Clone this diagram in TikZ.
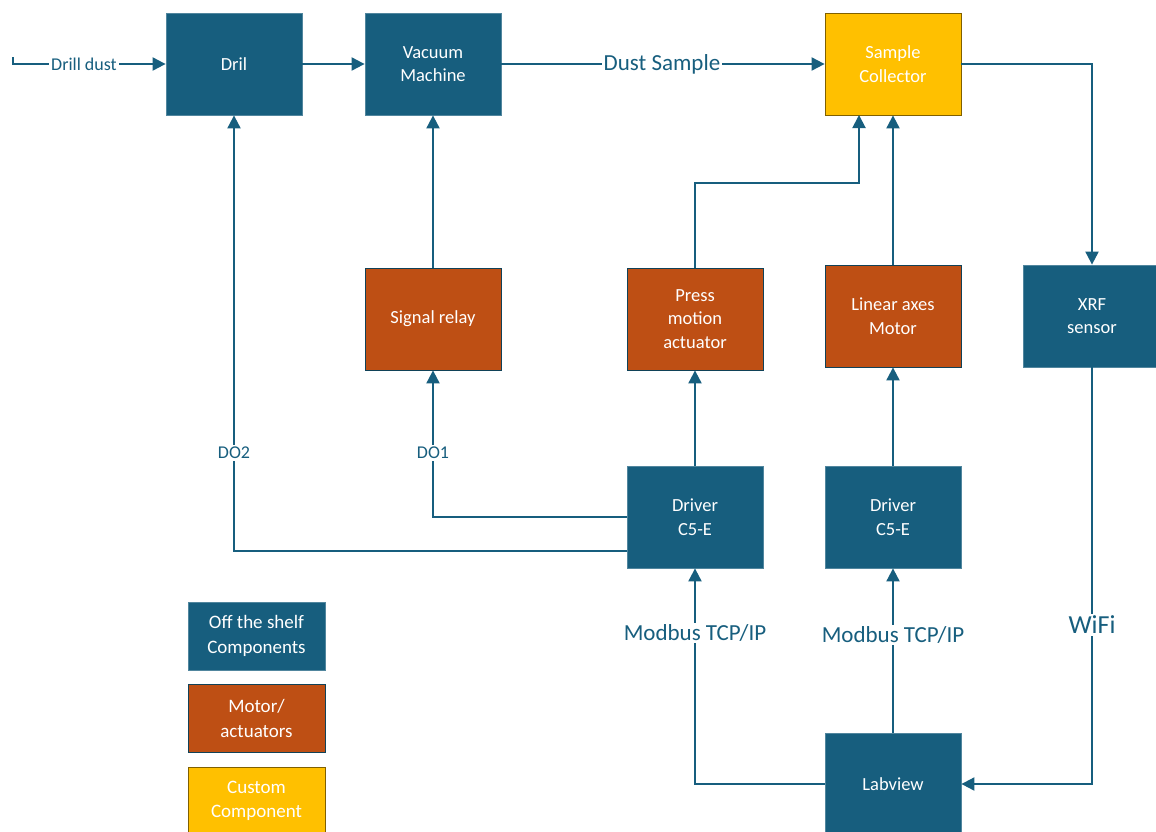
\documentclass[tikz,border=0pt]{standalone}
\usepackage{fontspec}
\setmainfont{Carlito}
\usetikzlibrary{arrows.meta}
\definecolor{dblue}{RGB}{23,94,126}
\definecolor{orng}{RGB}{190,79,20}
\definecolor{ylw}{RGB}{255,192,0}
\tikzset{
  blk/.style={rectangle, fill=dblue, draw=dblue!75!white, line width=0.8pt,
    minimum width=136pt, minimum height=102pt, inner sep=0pt, text=white,
    align=center, font=\fontsize{18.5}{23.5}\selectfont},
  orb/.style={blk, fill=orng, draw=dblue!70!black},
  ylb/.style={blk, fill=ylw, draw=ylw!50!black},
  leg/.style={minimum height=68pt, minimum width=137pt, font=\fontsize{19}{24.5}\selectfont},
  conn/.style={draw=dblue, line width=2pt},
  arr/.style={conn, -{Triangle[length=13pt,width=13pt]}},
  lbl/.style={fill=white, text=dblue, inner sep=2pt, font=\fontsize{18}{22}\selectfont},
  biglbl/.style={lbl, font=\fontsize{23}{27}\selectfont},
}
\begin{document}
\begin{tikzpicture}[x=1pt,y=-1pt]
\useasboundingbox (0,0) rectangle (1156,831);
% boxes
\node[blk] (dril) at (234,64) {Dril};
\node[blk] (vac) at (433,64) {Vacuum\\Machine};
\node[ylb] (sc) at (893,64) {Sample\\Collector};
\node[orb] (relay) at (433,319) {Signal relay};
\node[orb] (press) at (695,319) {Press\\motion\\actuator};
\node[orb] (lin) at (893,316) {Linear axes\\Motor};
\node[blk, minimum width=138pt] (xrf) at (1092,316) {XRF\\sensor};
\node[blk] (drvL) at (695,517) {Driver\\C5-E};
\node[blk] (drvR) at (893,517) {Driver\\C5-E};
\node[blk] (lab) at (893,784) {Labview};
% legend
\node[blk, leg] (legA) at (256.5,636) {Off the shelf\\Components};
\node[orb, leg] (legB) at (256.5,718.5) {Motor/\\actuators};
\node[ylb, leg] (legC) at (256.5,801) {Custom\\Component};
% coordinates
\coordinate (dd) at (13,57);
\coordinate (scin) at (859,115);
\coordinate (pbend) at (695,183);
\coordinate (d1) at (627,517);
\coordinate (d2) at (627,551);
% connectors
\draw[arr] (dd) |- (dril.west);
\node[lbl] (ddl) at (84,64) {Drill dust};
\draw[arr] (dril.east) -- (vac.west);
\draw[arr] (vac.east) -- (sc.west);
\node[biglbl] (dsl) at (662,64) {Dust Sample};
\draw[arr] (sc.east) -| (xrf.north);
\draw[arr] (xrf.south) |- (lab.east);
\node[biglbl, font=\fontsize{26}{30}\selectfont] (wifi) at (1092,625) {WiFi};
\draw[arr] (lab.west) -| (drvL.south);
\node[biglbl] (mb1) at (695,633) {Modbus TCP/IP};
\draw[arr] (lab.north) -- (drvR.south);
\node[biglbl] (mb2) at (893,635) {Modbus TCP/IP};
\draw[arr] (drvL.north) -- (press.south);
\draw[arr] (drvR.north) -- (lin.south);
\draw[arr] (press.north) -- (pbend) -| (scin);
\draw[arr] (lin.north) -- (lin.north |- sc.south);
\draw[arr] (relay.north) -- (vac.south);
\draw[arr] (d1) -| (relay.south);
\node[lbl] (do1) at (433,453) {DO1};
\draw[arr] (d2) -| (dril.south);
\node[lbl] (do2) at (234,453) {DO2};
\end{tikzpicture}
\end{document}
